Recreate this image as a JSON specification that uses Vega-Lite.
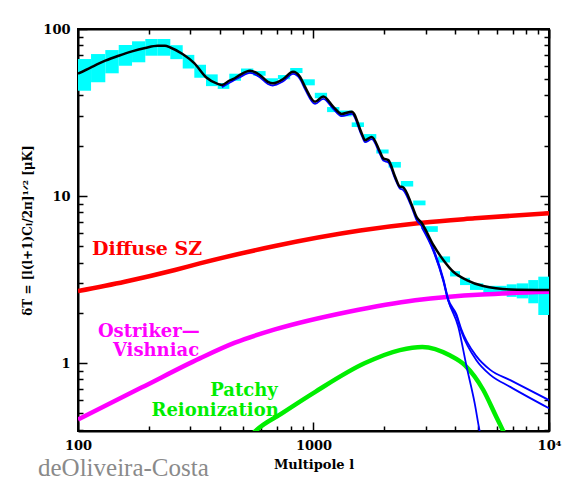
{
  "$schema": "https://vega.github.io/schema/vega-lite/v6.json",
  "width": 471,
  "height": 402,
  "autosize": {"type": "none"},
  "padding": {"left": 78, "top": 29, "right": 15, "bottom": 52},
  "background": "white",
  "title": {
    "text": "deOliveira-Costa",
    "orient": "bottom",
    "anchor": "start",
    "frame": "group",
    "font": "Liberation Serif",
    "fontSize": 25,
    "fontWeight": "normal",
    "color": "#8a8a8a",
    "dx": -40,
    "offset": -15
  },
  "config": {
    "view": {"stroke": "black", "strokeWidth": 2},
    "axis": {
      "grid": false,
      "domainColor": "black",
      "domainWidth": 2,
      "tickColor": "black",
      "tickWidth": 1.5,
      "labelFont": "DejaVu Serif",
      "labelFontWeight": "bold",
      "labelFontSize": 13,
      "labelColor": "black",
      "labelFlush": false,
      "labelOverlap": false,
      "titleFont": "DejaVu Serif",
      "titleFontWeight": "bold",
      "titleFontSize": 13,
      "titleColor": "black"
    }
  },
  "datasets": {
    "boxes": [
      {"l_lo": 100, "l_hi": 113.6, "v_lo": 42.7, "v_hi": 66.1},
      {"l_lo": 113.6, "l_hi": 130.6, "v_lo": 48, "v_hi": 70.8},
      {"l_lo": 130.6, "l_hi": 148.9, "v_lo": 54.3, "v_hi": 74.8},
      {"l_lo": 148.9, "l_hi": 169.6, "v_lo": 60.3, "v_hi": 80.2},
      {"l_lo": 169.6, "l_hi": 193.1, "v_lo": 63.2, "v_hi": 84.4},
      {"l_lo": 193.1, "l_hi": 218, "v_lo": 69.2, "v_hi": 87.1},
      {"l_lo": 218, "l_hi": 246.6, "v_lo": 69.2, "v_hi": 87.1},
      {"l_lo": 246.6, "l_hi": 278.4, "v_lo": 66, "v_hi": 80},
      {"l_lo": 278.4, "l_hi": 311.8, "v_lo": 58, "v_hi": 70},
      {"l_lo": 311.8, "l_hi": 349.6, "v_lo": 51, "v_hi": 61},
      {"l_lo": 349.6, "l_hi": 392, "v_lo": 45.5, "v_hi": 53.5},
      {"l_lo": 392, "l_hi": 439, "v_lo": 43.8, "v_hi": 47.5},
      {"l_lo": 439, "l_hi": 492.2, "v_lo": 49, "v_hi": 54},
      {"l_lo": 492.2, "l_hi": 555.2, "v_lo": 54, "v_hi": 58},
      {"l_lo": 555.2, "l_hi": 626.1, "v_lo": 52.5, "v_hi": 56},
      {"l_lo": 626.1, "l_hi": 706.2, "v_lo": 47.5, "v_hi": 50.7},
      {"l_lo": 706.2, "l_hi": 796.2, "v_lo": 50, "v_hi": 53},
      {"l_lo": 796.2, "l_hi": 898, "v_lo": 54.5, "v_hi": 58.4},
      {"l_lo": 898, "l_hi": 1012.8, "v_lo": 46, "v_hi": 50},
      {"l_lo": 1012.8, "l_hi": 1142, "v_lo": 38.5, "v_hi": 41.5},
      {"l_lo": 1142, "l_hi": 1288, "v_lo": 31.8, "v_hi": 34.1},
      {"l_lo": 1288, "l_hi": 1453, "v_lo": 30, "v_hi": 32.5},
      {"l_lo": 1453, "l_hi": 1638, "v_lo": 25.9, "v_hi": 27.6},
      {"l_lo": 1638, "l_hi": 1848, "v_lo": 22, "v_hi": 23.5},
      {"l_lo": 1848, "l_hi": 2084, "v_lo": 18, "v_hi": 19},
      {"l_lo": 2084, "l_hi": 2350, "v_lo": 14.8, "v_hi": 16},
      {"l_lo": 2350, "l_hi": 2651, "v_lo": 11.4, "v_hi": 12.3},
      {"l_lo": 2651, "l_hi": 2990, "v_lo": 8.8, "v_hi": 9.4},
      {"l_lo": 2990, "l_hi": 3372, "v_lo": 6.1, "v_hi": 6.6},
      {"l_lo": 3372, "l_hi": 3802, "v_lo": 4.0, "v_hi": 4.35},
      {"l_lo": 3802, "l_hi": 4190, "v_lo": 3.3, "v_hi": 3.55},
      {"l_lo": 4190, "l_hi": 4618, "v_lo": 2.93, "v_hi": 3.24},
      {"l_lo": 4618, "l_hi": 5260, "v_lo": 2.74, "v_hi": 3.0},
      {"l_lo": 5260, "l_hi": 5898, "v_lo": 2.61, "v_hi": 2.9},
      {"l_lo": 5898, "l_hi": 6613, "v_lo": 2.55, "v_hi": 2.9},
      {"l_lo": 6613, "l_hi": 7292, "v_lo": 2.49, "v_hi": 2.96},
      {"l_lo": 7292, "l_hi": 8168, "v_lo": 2.44, "v_hi": 3.0},
      {"l_lo": 8168, "l_hi": 9008, "v_lo": 2.28, "v_hi": 3.14},
      {"l_lo": 9008, "l_hi": 10000, "v_lo": 1.94, "v_hi": 3.29}
    ],
    "total": [
      {"l": 100, "v": 54}, {"l": 113.6, "v": 59}, {"l": 130.6, "v": 64.6},
      {"l": 148.9, "v": 69.2}, {"l": 169.5, "v": 73.5}, {"l": 193, "v": 77},
      {"l": 218, "v": 79.4}, {"l": 234, "v": 79.4}, {"l": 246.5, "v": 77.5},
      {"l": 278, "v": 70.8}, {"l": 311.6, "v": 62.4}, {"l": 349.7, "v": 51.4},
      {"l": 392, "v": 46.9}, {"l": 408.5, "v": 46.2}, {"l": 438, "v": 49},
      {"l": 463, "v": 50.7}, {"l": 487, "v": 53.1}, {"l": 537.5, "v": 56.3},
      {"l": 591.5, "v": 53.1}, {"l": 640, "v": 48.3}, {"l": 672, "v": 47.3},
      {"l": 741, "v": 50}, {"l": 819, "v": 55.5}, {"l": 876, "v": 51.8},
      {"l": 921, "v": 45}, {"l": 1015, "v": 36.7}, {"l": 1100, "v": 39.4},
      {"l": 1212, "v": 34.3}, {"l": 1316, "v": 31}, {"l": 1454, "v": 32},
      {"l": 1603, "v": 23.7}, {"l": 1656, "v": 21.6}, {"l": 1768, "v": 22.6},
      {"l": 1916, "v": 18.4}, {"l": 1978, "v": 16.8}, {"l": 2078, "v": 16.4},
      {"l": 2219, "v": 13.1}, {"l": 2327, "v": 11.4}, {"l": 2397, "v": 11.3},
      {"l": 2617, "v": 8.8}, {"l": 2738, "v": 7.5}, {"l": 2880, "v": 6.9},
      {"l": 3226, "v": 5.1}, {"l": 3557, "v": 4.14}, {"l": 3923, "v": 3.52},
      {"l": 4472, "v": 3.14}, {"l": 5260, "v": 2.89}, {"l": 6831, "v": 2.76},
      {"l": 10000, "v": 2.74}
    ],
    "blue": [
      {"s": "b1", "l": 408.5, "v": 44.8}, {"s": "b1", "l": 438, "v": 47.5}, {"s": "b1", "l": 487, "v": 51.5},
      {"s": "b1", "l": 537.5, "v": 54.6}, {"s": "b1", "l": 591.5, "v": 51.5}, {"s": "b1", "l": 640, "v": 46.9},
      {"s": "b1", "l": 672, "v": 45.9}, {"s": "b1", "l": 741, "v": 48.5}, {"s": "b1", "l": 819, "v": 53.8},
      {"s": "b1", "l": 876, "v": 50.2}, {"s": "b1", "l": 921, "v": 43.6}, {"s": "b1", "l": 1015, "v": 35.6},
      {"s": "b1", "l": 1100, "v": 38.2}, {"s": "b1", "l": 1212, "v": 33.3}, {"s": "b1", "l": 1316, "v": 30.1},
      {"s": "b1", "l": 1454, "v": 31}, {"s": "b1", "l": 1603, "v": 23}, {"s": "b1", "l": 1656, "v": 21},
      {"s": "b1", "l": 1768, "v": 21.9}, {"s": "b1", "l": 1916, "v": 17.8}, {"s": "b1", "l": 1978, "v": 16.3},
      {"s": "b1", "l": 2078, "v": 15.9}, {"s": "b1", "l": 2219, "v": 12.7}, {"s": "b1", "l": 2327, "v": 11.1},
      {"s": "b1", "l": 2397, "v": 10.9}, {"s": "b1", "l": 2617, "v": 8.5}, {"s": "b1", "l": 2738, "v": 7.2},
      {"s": "b1", "l": 2880, "v": 6.6}, {"s": "b1", "l": 3226, "v": 4.75}, {"s": "b1", "l": 3557, "v": 3.14},
      {"s": "b1", "l": 3733, "v": 2.38}, {"s": "b1", "l": 4118, "v": 1.65}, {"s": "b1", "l": 4470, "v": 0.95},
      {"s": "b1", "l": 4837, "v": 0.574}, {"s": "b1", "l": 5080, "v": 0.39}, {"s": "b1", "l": 5400, "v": 0.28},
      {"s": "b2", "l": 2880, "v": 6.7}, {"s": "b2", "l": 3226, "v": 4.85}, {"s": "b2", "l": 3557, "v": 3.2},
      {"s": "b2", "l": 3733, "v": 2.42}, {"s": "b2", "l": 4050, "v": 1.95}, {"s": "b2", "l": 4240, "v": 1.6},
      {"s": "b2", "l": 4915, "v": 1.1}, {"s": "b2", "l": 5630, "v": 0.91}, {"s": "b2", "l": 6845, "v": 0.79},
      {"s": "b2", "l": 10000, "v": 0.6},
      {"s": "b3", "l": 2880, "v": 6.5}, {"s": "b3", "l": 3226, "v": 4.7}, {"s": "b3", "l": 3557, "v": 3.1},
      {"s": "b3", "l": 3733, "v": 2.36}, {"s": "b3", "l": 4050, "v": 1.9}, {"s": "b3", "l": 4240, "v": 1.55},
      {"s": "b3", "l": 4915, "v": 1.04}, {"s": "b3", "l": 5630, "v": 0.85}, {"s": "b3", "l": 6845, "v": 0.72},
      {"s": "b3", "l": 10000, "v": 0.536}
    ],
    "sz": [
      {"l": 100, "v": 2.7}, {"l": 158, "v": 3.07}, {"l": 258, "v": 3.61}, {"l": 329, "v": 3.95},
      {"l": 686, "v": 5.02}, {"l": 1578, "v": 6.21}, {"l": 2896, "v": 6.92},
      {"l": 4837, "v": 7.35}, {"l": 10000, "v": 7.9}
    ],
    "ov": [
      {"l": 100, "v": 0.46}, {"l": 186, "v": 0.713}, {"l": 329, "v": 1.067}, {"l": 464, "v": 1.325},
      {"l": 686, "v": 1.59}, {"l": 1411, "v": 2.03}, {"l": 2701, "v": 2.38}, {"l": 10000, "v": 2.67}
    ],
    "patchy": [
      {"l": 500, "v": 0.32}, {"l": 565, "v": 0.39}, {"l": 734, "v": 0.5}, {"l": 1018, "v": 0.673},
      {"l": 1655, "v": 1.0}, {"l": 2327, "v": 1.196}, {"l": 2896, "v": 1.25}, {"l": 3806, "v": 1.11},
      {"l": 4400, "v": 0.97}, {"l": 5260, "v": 0.69}, {"l": 5970, "v": 0.477}, {"l": 6400, "v": 0.39},
      {"l": 7000, "v": 0.3}
    ],
    "labels": [
      {"text": "Ostriker—", "series": "ov", "l": 329, "v": 1.44},
      {"text": "Vishniac", "series": "ov", "l": 327, "v": 1.097},
      {"text": "Patchy", "series": "patchy", "l": 705, "v": 0.637},
      {"text": "Reionization", "series": "patchy", "l": 712, "v": 0.485}
    ],
    "labelsLeft": [
      {"text": "Diffuse  SZ", "series": "sz", "l": 114.7, "v": 4.43}
    ]
  },
  "layer": [
    {
      "data": {"name": "boxes"},
      "mark": {"type": "rect", "color": "#00ffff", "clip": true},
      "encoding": {
        "x": {
          "field": "l_lo", "type": "quantitative",
          "scale": {"type": "log", "domain": [100, 10000], "nice": false},
          "axis": {
            "orient": "bottom",
            "values": [100, 200, 300, 400, 500, 600, 700, 800, 900, 1000, 2000, 3000, 4000, 5000, 6000, 7000, 8000, 9000, 10000],
            "labelExpr": "datum.value == 100 ? '100' : datum.value == 1000 ? '1000' : datum.value == 10000 ? '10⁴' : ''",
            "tickSize": {"condition": {"test": "datum.value == 100 || datum.value == 1000 || datum.value == 10000", "value": -9}, "value": -5},
            "labelPadding": 17,
            "title": "Multipole l",
            "titlePadding": 2
          }
        },
        "x2": {"field": "l_hi"},
        "y": {
          "field": "v_lo", "type": "quantitative",
          "scale": {"type": "log", "domain": [0.392, 100], "nice": false},
          "axis": {
            "orient": "left",
            "values": [0.4, 0.5, 0.6, 0.7, 0.8, 0.9, 1, 2, 3, 4, 5, 6, 7, 8, 9, 10, 20, 30, 40, 50, 60, 70, 80, 90, 100],
            "labelExpr": "datum.value == 100 ? '100' : datum.value == 10 ? '10' : datum.value == 1 ? '1' : ''",
            "tickSize": {"condition": {"test": "datum.value == 1 || datum.value == 10 || datum.value == 100", "value": -9}, "value": -5},
            "labelPadding": 17,
            "title": "δT = [l(l+1)Cₗ/2π]¹ᐟ² [μK]",
            "titleFontSize": 12,
            "titlePadding": 8
          }
        },
        "y2": {"field": "v_hi"}
      }
    },
    {
      "data": {"name": "sz"},
      "mark": {"type": "line", "color": "#ff0000", "strokeWidth": 4.5, "interpolate": "monotone", "clip": true},
      "encoding": {
        "x": {"field": "l", "type": "quantitative", "scale": {"type": "log", "domain": [100, 10000], "nice": false}, "axis": null},
        "y": {"field": "v", "type": "quantitative", "scale": {"type": "log", "domain": [0.392, 100], "nice": false}, "axis": null}
      }
    },
    {
      "data": {"name": "ov"},
      "mark": {"type": "line", "color": "#ff00ff", "strokeWidth": 4.5, "interpolate": "monotone", "clip": true},
      "encoding": {
        "x": {"field": "l", "type": "quantitative", "scale": {"type": "log", "domain": [100, 10000], "nice": false}, "axis": null},
        "y": {"field": "v", "type": "quantitative", "scale": {"type": "log", "domain": [0.392, 100], "nice": false}, "axis": null}
      }
    },
    {
      "data": {"name": "patchy"},
      "mark": {"type": "line", "color": "#00ee00", "strokeWidth": 4.5, "interpolate": "monotone", "clip": true},
      "encoding": {
        "x": {"field": "l", "type": "quantitative", "scale": {"type": "log", "domain": [100, 10000], "nice": false}, "axis": null},
        "y": {"field": "v", "type": "quantitative", "scale": {"type": "log", "domain": [0.392, 100], "nice": false}, "axis": null}
      }
    },
    {
      "data": {"name": "blue"},
      "mark": {"type": "line", "color": "#0000ff", "strokeWidth": 1.8, "interpolate": "monotone", "clip": true},
      "encoding": {
        "x": {"field": "l", "type": "quantitative", "scale": {"type": "log", "domain": [100, 10000], "nice": false}, "axis": null},
        "y": {"field": "v", "type": "quantitative", "scale": {"type": "log", "domain": [0.392, 100], "nice": false}, "axis": null},
        "detail": {"field": "s"}
      }
    },
    {
      "data": {"name": "total"},
      "mark": {"type": "line", "color": "#000000", "strokeWidth": 2.5, "interpolate": "monotone", "clip": true},
      "encoding": {
        "x": {
          "field": "l", "type": "quantitative",
          "scale": {"type": "log", "domain": [100, 10000], "nice": false},
          "axis": {
            "orient": "top",
            "values": [100, 200, 300, 400, 500, 600, 700, 800, 900, 1000, 2000, 3000, 4000, 5000, 6000, 7000, 8000, 9000, 10000],
            "labels": false,
            "title": null,
            "tickSize": {"condition": {"test": "datum.value == 100 || datum.value == 1000 || datum.value == 10000", "value": -9}, "value": -5}
          }
        },
        "y": {
          "field": "v", "type": "quantitative",
          "scale": {"type": "log", "domain": [0.392, 100], "nice": false},
          "axis": {
            "orient": "right",
            "values": [0.4, 0.5, 0.6, 0.7, 0.8, 0.9, 1, 2, 3, 4, 5, 6, 7, 8, 9, 10, 20, 30, 40, 50, 60, 70, 80, 90, 100],
            "labels": false,
            "title": null,
            "tickSize": {"condition": {"test": "datum.value == 1 || datum.value == 10 || datum.value == 100", "value": -9}, "value": -5}
          }
        }
      }
    },
    {
      "data": {"name": "labels"},
      "mark": {"type": "text", "align": "right", "baseline": "alphabetic", "font": "DejaVu Serif", "fontWeight": "bold", "fontSize": 18},
      "encoding": {
        "x": {"field": "l", "type": "quantitative", "scale": {"type": "log", "domain": [100, 10000], "nice": false}, "axis": null},
        "y": {"field": "v", "type": "quantitative", "scale": {"type": "log", "domain": [0.392, 100], "nice": false}, "axis": null},
        "text": {"field": "text"},
        "color": {"field": "series", "type": "nominal", "scale": {"domain": ["sz", "ov", "patchy"], "range": ["#ff0000", "#ff00ff", "#00ee00"]}, "legend": null}
      }
    },
    {
      "data": {"name": "labelsLeft"},
      "mark": {"type": "text", "align": "left", "baseline": "alphabetic", "font": "DejaVu Serif", "fontWeight": "bold", "fontSize": 19},
      "encoding": {
        "x": {"field": "l", "type": "quantitative", "scale": {"type": "log", "domain": [100, 10000], "nice": false}, "axis": null},
        "y": {"field": "v", "type": "quantitative", "scale": {"type": "log", "domain": [0.392, 100], "nice": false}, "axis": null},
        "text": {"field": "text"},
        "color": {"field": "series", "type": "nominal", "scale": {"domain": ["sz", "ov", "patchy"], "range": ["#ff0000", "#ff00ff", "#00ee00"]}, "legend": null}
      }
    }
  ],
  "resolve": {"axis": {"x": "independent", "y": "independent"}}
}
